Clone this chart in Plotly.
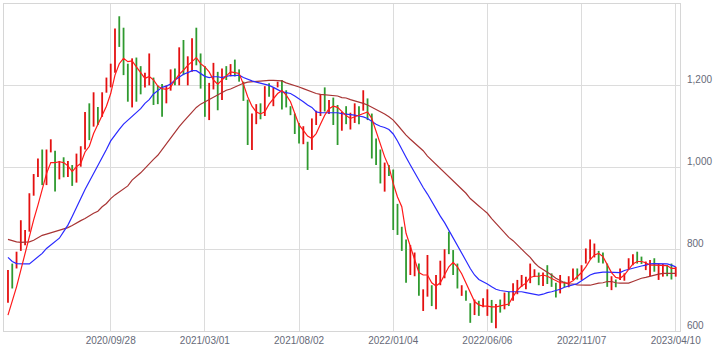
import pandas as pd
import plotly.graph_objects as go

# weekly bars, 2020-04-13 .. 2023-04-10
dates = [d.strftime("%Y-%m-%d") for d in pd.date_range("2020-04-13", periods=157, freq="7D")]
dates = ["2022-01-04" if d == "2022-01-03" else d for d in dates]

tick_dates = ["2020-09-28", "2021-03-01", "2021-08-02", "2022-01-04", "2022-06-06", "2022-11-07", "2023-04-10"]
tick_labels = ["2020/09/28", "2021/03/01", "2021/08/02", "2022/01/04", "2022/06/06", "2022/11/07", "2023/04/10"]
y_ticks = [600, 800, 1000, 1200]

highs = [749, 765, 794, 871, 847, 937, 984, 1022, 1044, 1044, 1069, 1041, 1016, 1025, 1016, 1006, 1034, 1052, 1136, 1157,
         1184, 1148, 1184, 1220, 1254, 1340, 1370, 1342, 1254, 1267, 1269, 1248, 1232, 1279, 1220, 1201, 1204, 1201, 1240, 1242,
         1294, 1312, 1272, 1316, 1342, 1279, 1248, 1207, 1256, 1234, 1242, 1248, 1253, 1264, 1240, 1210, 1166, 1132, 1155, 1157,
         1199, 1206, 1196, 1210, 1214, 1189, 1150, 1132, 1109, 1101, 1063, 1120, 1139, 1180, 1196, 1165, 1171, 1153, 1136, 1150,
         1134, 1157, 1150, 1189, 1169, 1132, 1071, 1044, 1012, 1006, 995, 911, 855, 824, 810, 792, 765, 702, 786, 712,
         737, 772, 800, 843, 798, 765, 712, 699, 668, 677, 674, 680, 702, 676, 666, 677, 694, 696, 717, 725,
         737, 733, 765, 751, 743, 743, 761, 741, 718, 737, 721, 734, 753, 753, 761, 802, 824, 814, 796, 792,
         765, 734, 726, 753, 741, 778, 788, 794, 782, 770, 774, 778, 765, 764, 761, 765, 757]
lows = [669, 704, 753, 796, 810, 843, 931, 977, 957, 957, 1037, 941, 971, 976, 977, 955, 963, 1002, 1044, 1067,
        1100, 1104, 1124, 1183, 1196, 1232, 1295, 1226, 1161, 1147, 1161, 1179, 1196, 1201, 1153, 1155, 1124, 1157, 1188, 1201,
        1201, 1226, 1201, 1234, 1250, 1193, 1124, 1116, 1191, 1140, 1165, 1214, 1223, 1223, 1210, 1163, 1055, 1043, 1106, 1118,
        1126, 1173, 1150, 1196, 1142, 1147, 1128, 1082, 1059, 1057, 994, 1043, 1104, 1126, 1137, 1131, 1104, 1055, 1090, 1106,
        1093, 1109, 1106, 1139, 1116, 1022, 1006, 961, 941, 979, 847, 835, 796, 718, 737, 734, 686, 649, 684, 661,
        653, 712, 729, 788, 737, 704, 686, 674, 620, 639, 637, 658, 637, 620, 607, 645, 653, 661, 674, 690,
        708, 702, 717, 732, 712, 710, 715, 708, 682, 692, 707, 707, 725, 726, 725, 765, 775, 780, 767, 765,
        708, 700, 707, 725, 723, 751, 761, 765, 764, 749, 734, 745, 725, 733, 734, 726, 733]
# 1 = up week (red), 0 = down week (green)
up = [1, 0, 1, 1, 1, 1, 1, 1, 0, 1, 1, 0, 1, 0, 1, 0, 1, 1, 1, 0,
      1, 0, 1, 1, 1, 1, 0, 0, 0, 1, 0, 0, 1, 1, 0, 0, 0, 1, 1, 0,
      1, 0, 1, 1, 0, 0, 0, 1, 1, 0, 1, 0, 1, 0, 0, 0, 0, 1, 1, 0,
      1, 0, 1, 1, 0, 0, 0, 0, 0, 1, 0, 1, 1, 1, 0, 1, 0, 0, 1, 0,
      1, 1, 0, 1, 0, 0, 0, 0, 1, 0, 0, 0, 0, 0, 1, 1, 0, 1, 1, 0,
      1, 1, 1, 0, 0, 0, 1, 0, 0, 1, 0, 1, 1, 0, 1, 0, 1, 0, 1, 1,
      1, 1, 1, 1, 0, 1, 0, 0, 0, 1, 0, 1, 1, 0, 1, 1, 1, 1, 0, 0,
      0, 1, 0, 1, 1, 1, 1, 0, 0, 1, 1, 0, 1, 1, 0, 0, 1]

ma_short = [639, 672, 708, 749, 790, 835, 872, 908, 945, 985, 1012, 1012, 1014, 1012, 1004, 990, 1002, 1010, 1038, 1052,
            1083, 1104, 1128, 1150, 1181, 1226, 1254, 1267, 1259, 1261, 1246, 1232, 1218, 1223, 1214, 1199, 1193, 1191, 1196, 1214,
            1228, 1238, 1250, 1259, 1269, 1254, 1246, 1234, 1214, 1204, 1214, 1226, 1234, 1232, 1230, 1204, 1173, 1150, 1136, 1131,
            1136, 1155, 1169, 1181, 1188, 1177, 1161, 1132, 1104, 1091, 1077, 1071, 1083, 1106, 1128, 1144, 1150, 1147, 1136, 1127,
            1120, 1124, 1128, 1132, 1136, 1120, 1090, 1059, 1026, 1002, 961, 928, 904, 839, 806, 774, 743, 737, 737, 718,
            710, 718, 737, 757, 768, 757, 740, 717, 692, 672, 664, 661, 661, 659, 659, 661, 664, 666, 684, 700,
            710, 717, 731, 734, 734, 737, 734, 729, 723, 718, 718, 717, 723, 732, 743, 757, 774, 786, 790, 782,
            761, 743, 731, 729, 737, 751, 764, 770, 770, 767, 761, 761, 761, 761, 760, 753, 753]
ma_mid = [780, 770, 765, 764, 764, 764, 772, 780, 790, 802, 810, 818, 827, 843, 859, 880, 904, 924, 946, 965,
          985, 1003, 1022, 1044, 1065, 1080, 1093, 1106, 1116, 1124, 1134, 1144, 1157, 1166, 1180, 1189, 1196, 1199, 1204, 1214,
          1222, 1228, 1232, 1237, 1237, 1230, 1223, 1220, 1222, 1222, 1220, 1223, 1225, 1225, 1226, 1220, 1215, 1212, 1209, 1206,
          1204, 1201, 1196, 1191, 1185, 1183, 1181, 1175, 1169, 1161, 1153, 1147, 1136, 1134, 1134, 1134, 1134, 1134, 1132, 1131,
          1130, 1128, 1126, 1124, 1120, 1112, 1106, 1101, 1098, 1093, 1082, 1065, 1043, 1025, 1006, 987, 969, 951, 935, 916,
          897, 881, 865, 847, 829, 810, 790, 772, 753, 737, 726, 721, 715, 708, 702, 699, 697, 696, 696, 696,
          696, 694, 692, 690, 688, 690, 694, 696, 699, 702, 707, 710, 712, 716, 723, 731, 737, 741, 743, 744,
          744, 744, 743, 743, 748, 751, 753, 756, 759, 761, 764, 765, 765, 765, 764, 761, 757]
ma_long = [824, 821, 818, 817, 817, 818, 822, 828, 834, 837, 840, 844, 847, 850, 853, 858, 865, 870, 875, 882,
           888, 893, 904, 912, 924, 933, 940, 946, 955, 969, 977, 987, 998, 1010, 1020, 1030, 1044, 1059, 1071, 1085,
           1100, 1112, 1124, 1134, 1147, 1155, 1161, 1166, 1173, 1177, 1183, 1189, 1192, 1197, 1201, 1206, 1209, 1210, 1211, 1211,
           1213, 1213, 1213, 1213, 1212, 1207, 1204, 1201, 1197, 1193, 1189, 1185, 1181, 1179, 1178, 1177, 1176, 1175, 1171, 1170,
           1166, 1163, 1161, 1157, 1153, 1148, 1142, 1136, 1131, 1124, 1116, 1104, 1091, 1079, 1069, 1060, 1051, 1041, 1028, 1018,
           1008, 998, 987, 977, 969, 957, 948, 937, 924, 914, 906, 897, 888, 875, 863, 851, 840, 829, 821, 810,
           800, 790, 780, 767, 757, 751, 745, 737, 729, 723, 718, 715, 715, 713, 712, 712, 712, 715, 717, 718,
           721, 721, 718, 717, 717, 717, 721, 725, 729, 731, 734, 736, 739, 741, 741, 741, 741]

UP_COLOR = "#e41010"
DOWN_COLOR = "#2f9a2f"


def segments(flag):
    xs, ys = [], []
    for d, h, l, u in zip(dates, highs, lows, up):
        if u == flag:
            xs += [d, d, d]
            ys += [l, h, None]
    return xs, ys


fig = go.Figure()
for flag, col in ((1, UP_COLOR), (0, DOWN_COLOR)):
    sx, sy = segments(flag)
    fig.add_trace(go.Scatter(x=sx, y=sy, mode="lines", connectgaps=False,
                             line=dict(color=col, width=1.8), hoverinfo="skip"))
fig.add_trace(go.Scatter(x=dates, y=ma_long, mode="lines", line=dict(color="#a83434", width=1.2)))
fig.add_trace(go.Scatter(x=dates, y=ma_mid, mode="lines", line=dict(color="#2a2aff", width=1.2)))
fig.add_trace(go.Scatter(x=dates, y=ma_short, mode="lines", line=dict(color="#ff1a1a", width=1.2)))

fig.update_layout(
    width=715, height=353,
    margin=dict(l=3, r=33, t=3, b=22),
    paper_bgcolor="white", plot_bgcolor="white",
    showlegend=False,
    font=dict(family="Liberation Sans, Arial, sans-serif", size=10, color="#666a78"),
)
fig.update_xaxes(
    type="category",
    categoryorder="array", categoryarray=dates,
    range=[-0.93, 157.0],
    tickmode="array", tickvals=tick_dates, ticktext=tick_labels,
    showgrid=True, gridcolor="#dcdcdc", gridwidth=1,
    showline=True, linecolor="#d6d6d6", linewidth=1, mirror=True,
    ticks="", zeroline=False,
)
fig.update_yaxes(
    side="right",
    range=[600, 1400],
    tickmode="array", tickvals=y_ticks, tickformat=",d",
    showgrid=True, gridcolor="#dcdcdc", gridwidth=1,
    showline=True, linecolor="#d6d6d6", linewidth=1, mirror=True,
    ticks="", zeroline=False,
    ticklabelshift=-6, ticklabelstandoff=4,
)

fig.write_html("out.html")
